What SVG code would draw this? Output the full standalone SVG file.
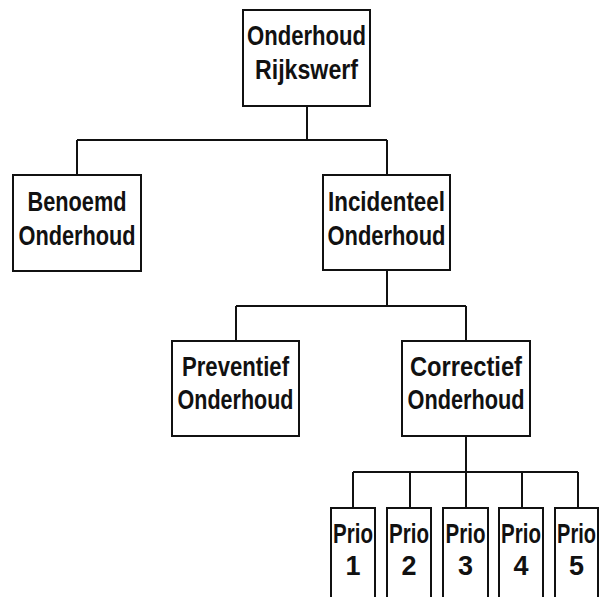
<svg xmlns="http://www.w3.org/2000/svg" width="602" height="597" viewBox="0 0 602 597">
  <style>
    .box { fill: #ffffff; stroke: #111111; stroke-width: 2; }
    .open { fill: none; stroke: #111111; stroke-width: 2; }
    .wire { fill: none; stroke: #111111; stroke-width: 2; }
    .lbl { font-family: "Liberation Sans", Arial, sans-serif; font-weight: bold; font-size: 27px; fill: #111111; text-anchor: middle; }
  </style>
  <rect width="602" height="597" fill="#ffffff"/>

  <!-- tree connectors -->
  <g id="connectors">
    <path class="wire" d="M307 106 V140 M77 140 H387 M77 140 V175 M387 140 V175"/>
    <path class="wire" d="M387 270 V306 M236 306 H466 M236 306 V341 M466 306 V341"/>
    <path class="wire" d="M466 436 V472 M353 472 H578 M353 472 V508 M410 472 V508 M466 472 V508 M522 472 V508 M578 472 V508"/>
  </g>

  <g id="onderhoud-rijkswerf">
    <rect class="box" x="243" y="10" width="127" height="96"/>
    <text class="lbl" x="306.5" y="45" textLength="119" lengthAdjust="spacingAndGlyphs">Onderhoud</text>
    <text class="lbl" x="306.5" y="79" textLength="103" lengthAdjust="spacingAndGlyphs">Rijkswerf</text>
  </g>

  <g id="benoemd-onderhoud">
    <rect class="box" x="13" y="175" width="128" height="96"/>
    <text class="lbl" x="77" y="211" textLength="99" lengthAdjust="spacingAndGlyphs">Benoemd</text>
    <text class="lbl" x="77" y="245" textLength="117" lengthAdjust="spacingAndGlyphs">Onderhoud</text>
  </g>

  <g id="incidenteel-onderhoud">
    <rect class="box" x="323" y="175" width="127" height="95"/>
    <text class="lbl" x="386.5" y="211" textLength="117" lengthAdjust="spacingAndGlyphs">Incidenteel</text>
    <text class="lbl" x="386.5" y="245" textLength="118" lengthAdjust="spacingAndGlyphs">Onderhoud</text>
  </g>

  <g id="preventief-onderhoud">
    <rect class="box" x="172" y="341" width="127" height="95"/>
    <text class="lbl" x="235.5" y="376" textLength="107" lengthAdjust="spacingAndGlyphs">Preventief</text>
    <text class="lbl" x="235.5" y="409" textLength="116" lengthAdjust="spacingAndGlyphs">Onderhoud</text>
  </g>

  <g id="correctief-onderhoud">
    <rect class="box" x="402" y="341" width="128" height="95"/>
    <text class="lbl" x="466" y="376" textLength="112" lengthAdjust="spacingAndGlyphs">Correctief</text>
    <text class="lbl" x="466" y="409" textLength="117" lengthAdjust="spacingAndGlyphs">Onderhoud</text>
  </g>

  <!-- priority columns, open at the lower edge; "Prio" narrowed to fit -->
  <g id="prio-1">
    <path class="open" d="M331 597 V508 H375 V597"/>
    <text class="lbl" transform="translate(353 543) scale(0.76 1)">Prio</text>
    <text class="lbl" x="353" y="575">1</text>
  </g>
  <g id="prio-2">
    <path class="open" d="M387 597 V508 H431 V597"/>
    <text class="lbl" transform="translate(409 543) scale(0.76 1)">Prio</text>
    <text class="lbl" x="409" y="575">2</text>
  </g>
  <g id="prio-3">
    <path class="open" d="M443 597 V508 H488 V597"/>
    <text class="lbl" transform="translate(465.5 543) scale(0.76 1)">Prio</text>
    <text class="lbl" x="465.5" y="575">3</text>
  </g>
  <g id="prio-4">
    <path class="open" d="M499 597 V508 H543 V597"/>
    <text class="lbl" transform="translate(521 543) scale(0.76 1)">Prio</text>
    <text class="lbl" x="521" y="575">4</text>
  </g>
  <g id="prio-5">
    <path class="open" d="M555 597 V508 H598 V597"/>
    <text class="lbl" transform="translate(576.5 543) scale(0.74 1)">Prio</text>
    <text class="lbl" x="576.5" y="575">5</text>
  </g>
</svg>
